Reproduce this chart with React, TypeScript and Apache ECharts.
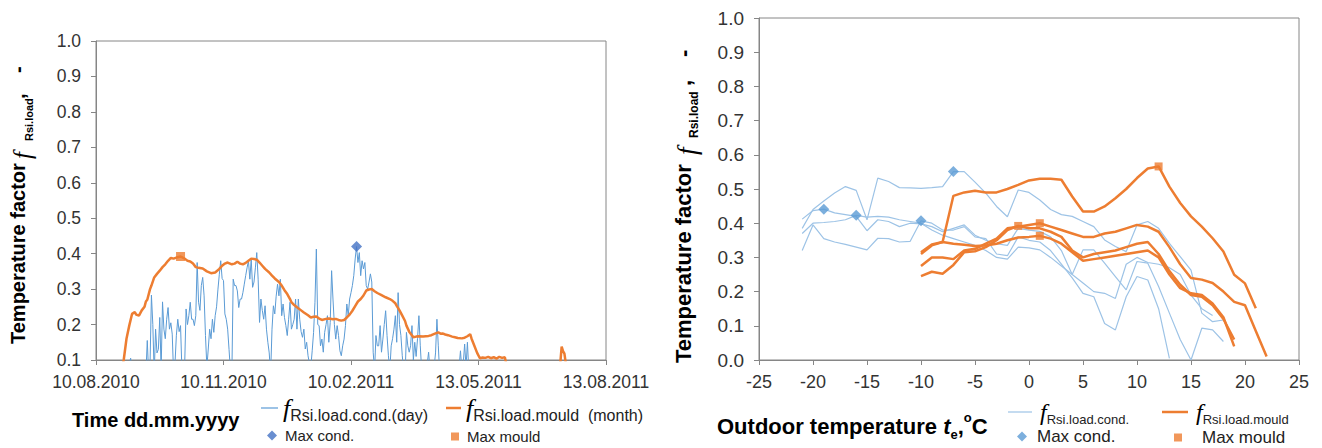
import React, { useEffect, useRef } from 'react';
import * as echarts from 'echarts';

// ---------- Left chart: time series ----------
const dateTickLabels = ['10.08.2010', '10.11.2010', '10.02.2011', '13.05.2011', '13.08.2011'];
const dayStep = 92; // days between date ticks (day 0 = 10.08.2010)

// daily condensation temperature factor, starting at day 20
const condStartDay = 20;
const condDaily = [
  0.06, 0.07, 0.05, 0.08, 0.09, 0.105, 0.07, 0.05, 0.06, 0.04, 0.07, 0.05, 0.06, 0.08, 0.05, 0.07, 0.06,
  0.155, 0.06, 0.09, 0.283, 0.2, 0.06, 0.187, 0.12, 0.13, 0.22, 0.07, 0.264, 0.187,
  0.16, 0.215, 0.248, 0.187, 0.205, 0.173, 0.06, 0.09, 0.17, 0.215,
  0.18, 0.197, 0.07, 0.05, 0.09, 0.244, 0.2, 0.225, 0.263, 0.215,
  0.215, 0.197, 0.225, 0.375, 0.263, 0.24, 0.31, 0.333, 0.281, 0.169,
  0.08, 0.131, 0.187, 0.16, 0.215, 0.178, 0.225, 0.25, 0.3, 0.342,
  0.38, 0.33, 0.324, 0.23, 0.215, 0.187, 0.13, 0.07, 0.05, 0.328,
  0.31, 0.31, 0.295, 0.248, 0.272, 0.272, 0.29, 0.314, 0.338, 0.36,
  0.38, 0.328, 0.385, 0.305, 0.32, 0.36, 0.403, 0.328, 0.206, 0.272,
  0.24, 0.215, 0.253, 0.187, 0.15, 0.12, 0.06, 0.187, 0.253, 0.23,
  0.28, 0.314, 0.281, 0.328, 0.225, 0.258, 0.22, 0.197, 0.169, 0.215,
  0.263, 0.187, 0.2, 0.215, 0.272, 0.187, 0.272, 0.215, 0.18, 0.164,
  0.187, 0.131, 0.15, 0.112, 0.09, 0.08, 0.126, 0.178, 0.263, 0.413,
  0.2, 0.197, 0.14, 0.159, 0.122, 0.178, 0.2, 0.225, 0.15, 0.206,
  0.352, 0.272, 0.2, 0.159, 0.197, 0.169, 0.126, 0.112, 0.14, 0.159,
  0.197, 0.258, 0.225, 0.272, 0.29, 0.31, 0.338, 0.385, 0.42, 0.375,
  0.403, 0.338, 0.38, 0.357, 0.375, 0.31, 0.3, 0.32, 0.343, 0.32,
  0.122, 0.07, 0.169, 0.14, 0.14, 0.197, 0.122, 0.159, 0.2, 0.239,
  0.169, 0.112, 0.07, 0.14, 0.16, 0.187, 0.225, 0.15, 0.29, 0.2,
  0.169, 0.112, 0.07, 0.05, 0.178, 0.14, 0.122, 0.14, 0.197, 0.1,
  0.15, 0.11, 0.16, 0.225, 0.14, 0.07, 0.05, 0.06, 0.08, 0.09,
  0.122, 0.07, 0.05, 0.06, 0.08, 0.12, 0.215, 0.14, 0.06, 0.05,
  0.07, 0.05, 0.08, 0.06, 0.04, 0.07, 0.05, 0.08, 0.06, 0.05, 0.07, 0.06, 0.08,
  0.126, 0.07, 0.09, 0.145, 0.08, 0.15, 0.07, 0.05, 0.06, 0.04, 0.07, 0.05, 0.06,
];

// monthly mould temperature factor (day, value); null = gap
const mouldDays = [
  19, 20, 22, 24, 26, 28, 29, 31, 33, 35, 36, 37, 39, 40, 42, 44, 46, 48, 50, 52, 54, 56, 58, 61, 64, 66, 68, 70,
  72, 74, 77, 80, 83, 86, 89, 91, 93, 95, 98, 100, 102, 104, 106, 108, 110, 112, 114, 116, 118, 120, 122, 125,
  127, 129, 132, 134, 136, 138, 140, 141, 143, 145, 148, 150, 153, 155, 157, 159, 161, 163, 166, 168, 171, 173,
  175, 177, 179, 181, 183, 185, 187, 189, 191, 193, 195, 197, 199, 201, 203, 206, 209, 212, 214, 216, 217, 219,
  221, 223, 224, 226, 229, 231, 233, 236, 238, 240, 242, 245, 247, 249, 250, 252, 254, 257, 259, 261, 264, 266,
  268, 270, 271, 273, 275, 277, 279, 281, 283, 285, 287, 289, 291, 293, 295, 296,
  316,
  335, 336, 337, 338, 339,
];
const mouldValues = [
  0.08, 0.1, 0.16, 0.197, 0.23, 0.235, 0.228, 0.225, 0.24, 0.25, 0.265, 0.27, 0.3, 0.31, 0.333, 0.343, 0.352, 0.362,
  0.37, 0.38, 0.388, 0.386, 0.389, 0.392, 0.386, 0.38, 0.378, 0.372,
  0.362, 0.36, 0.358, 0.35, 0.345, 0.347, 0.357, 0.366, 0.372, 0.375, 0.37, 0.372, 0.377, 0.372, 0.37, 0.374,
  0.38, 0.386, 0.385, 0.383, 0.375, 0.366, 0.357, 0.347,
  0.338, 0.33, 0.32, 0.31, 0.297, 0.286, 0.272, 0.263, 0.255, 0.249, 0.24, 0.234, 0.226, 0.22, 0.222, 0.223,
  0.217, 0.213, 0.216, 0.217, 0.215, 0.216,
  0.213, 0.211, 0.213, 0.22, 0.228, 0.239, 0.252, 0.265, 0.272, 0.282, 0.296, 0.299, 0.3, 0.294, 0.289, 0.283,
  0.277, 0.272, 0.267, 0.26, 0.253, 0.24,
  0.225, 0.21, 0.197, 0.18, 0.164, 0.166, 0.167, 0.166, 0.167, 0.168, 0.17, 0.175, 0.178, 0.174, 0.175, 0.172,
  0.17, 0.166, 0.164, 0.162, 0.161, 0.163,
  0.167, 0.173, 0.16, 0.14, 0.12, 0.105, 0.107, 0.106, 0.109, 0.105, 0.108, 0.104, 0.109, 0.106, 0.108, 0.09,
  null,
  0.09, 0.138, 0.125, 0.118, 0.09,
];
const maxCondDay = [188];
const maxCondValue = [0.42];
const maxMouldDay = [61];
const maxMouldValue = [0.392];

// ---------- Right chart: vs outdoor temperature ----------
const condStartTemp = -21;
const condLineA = [0.412, 0.437, 0.441, 0.43, 0.425, 0.42, 0.378, 0.41, 0.405, 0.39, 0.4, 0.398, 0.39, 0.375, 0.385,
  0.395, 0.365, 0.35, 0.34, 0.335, 0.385, 0.38, 0.376, 0.36, 0.32, 0.25, 0.322, 0.322, 0.283, 0.244, 0.205, 0.288,
  0.283, 0.215, 0.137, 0.06, 0.0, 0.093, 0.088, 0.054];
const condLineB = [0.37, 0.4, 0.402, 0.405, 0.41, 0.423, 0.418, 0.42, 0.418, 0.41, 0.405, 0.4, 0.38, 0.365, 0.355,
  0.345, 0.335, 0.32, 0.3, 0.295, 0.33, 0.328, 0.322, 0.3, 0.275, 0.25, 0.225, 0.2, 0.195, 0.18, 0.28, 0.3, 0.285,
  0.28, 0.27, 0.25, 0.19, 0.15, 0.13];
const condLineC = [0.32, 0.395, 0.355, 0.345, 0.338, 0.33, 0.322, 0.356, 0.355, 0.345, 0.347, 0.407, 0.4, 0.38, 0.38,
  0.39, 0.36, 0.355, 0.31, 0.305, 0.36, 0.35, 0.345, 0.32, 0.28, 0.24, 0.195, 0.185, 0.107, 0.088, 0.185, 0.244,
  0.234, 0.15, 0.005];
const condLineD = [0.385, 0.44, 0.465, 0.488, 0.507, 0.496, 0.41, 0.532, 0.522, 0.504, 0.503, 0.502, 0.504, 0.507,
  0.551, 0.551, 0.52, 0.488, 0.449, 0.419, 0.497, 0.49, 0.468, 0.44, 0.425, 0.42, 0.405, 0.39, 0.351, 0.332, 0.317,
  0.395, 0.405, 0.385, 0.341, 0.302, 0.263, 0.137, 0.112, 0.117];

const mouldStartTemp = -10;
const mouldLine1 = [0.31, 0.335, 0.345, 0.48, 0.49, 0.495, 0.49, 0.49, 0.5, 0.512, 0.525, 0.53, 0.53, 0.527, 0.478,
  0.434, 0.434, 0.449, 0.473, 0.5, 0.532, 0.56, 0.566, 0.507, 0.459, 0.42, 0.39, 0.356, 0.317, 0.249, 0.224, 0.151];
const mouldLine2 = [0.315, 0.338, 0.345, 0.34, 0.337, 0.333, 0.335, 0.34, 0.35, 0.358, 0.36, 0.363, 0.355, 0.34,
  0.315, 0.29, 0.295, 0.3, 0.305, 0.31, 0.315, 0.32, 0.3, 0.25, 0.21, 0.195, 0.19, 0.165, 0.125, 0.04];
const mouldLine3 = [0.275, 0.3, 0.3, 0.295, 0.32, 0.325, 0.34, 0.355, 0.385, 0.39, 0.395, 0.4, 0.39, 0.38, 0.37,
  0.36, 0.36, 0.37, 0.375, 0.385, 0.395, 0.39, 0.375, 0.33, 0.28, 0.24, 0.235, 0.225, 0.2, 0.17, 0.16, 0.085, 0.01];
const mouldLine4 = [0.245, 0.258, 0.252, 0.278, 0.315, 0.318, 0.33, 0.35, 0.38, 0.392, 0.385, 0.385, 0.375, 0.36,
  0.32, 0.3, 0.31, 0.315, 0.32, 0.33, 0.34, 0.345, 0.31, 0.26, 0.22, 0.19, 0.185, 0.16, 0.12, 0.06];

const maxCondTemp = [-19, -16, -10, -7];
const maxCondFactor = [0.441, 0.423, 0.407, 0.551];
const maxMouldTemp = [12, 1, 1, -1];
const maxMouldFactor = [0.566, 0.4, 0.363, 0.392];

// ---------- styles ----------
const SANS = 'Liberation Sans';
const SERIF = 'Liberation Serif';
const AXIS_GRAY = '#868686';
const LABEL = '#333333';
const BLUE_DAY = '#5B9BD5';
const BLUE_DIAMOND = '#4472C4';
const BLUE_LIGHT = '#9DC3E6';
const BLUE_MARK = '#5B9BD5';
const ORANGE = '#ED7D31';

const pairs = (start: number, vals: number[]) => vals.map((v, i) => [start + i, v]);
const zip = (xs: number[], ys: (number | null)[]) => xs.map((x, i) => [x, ys[i] === null ? '-' : ys[i]]);

function axisCommon(fontSize: number) {
  return {
    axisLine: { show: true, onZero: false, lineStyle: { color: AXIS_GRAY, width: 1 } },
    axisTick: { show: true, length: 5, inside: false, lineStyle: { color: AXIS_GRAY, width: 1 } },
    splitLine: { show: false },
    axisLabel: { fontSize, color: LABEL, fontFamily: SANS },
  };
}

function legendItem(name: string, left: number, top: number, w: number, h: number, formatter: string, rich: any, padLeft = 0, icon?: string) {
  return {
    data: [icon ? { name, icon } : name],
    left,
    top,
    padding: 0,
    itemWidth: w,
    itemHeight: h,
    selectedMode: false,
    formatter: () => formatter,
    textStyle: { rich, padding: [0, 0, 0, padLeft], color: '#222', fontFamily: SANS },
  };
}

// rotated (reading upwards) text piece, starting at (x, y)
function vText(text: string, x: number, y: number, fontSize: number, opts: any = {}) {
  return {
    type: 'text', x, y, rotation: Math.PI / 2,
    style: {
      text, x: 0, y: 0, fontSize, fontFamily: opts.serif ? SERIF : SANS,
      fontWeight: opts.normal ? 'normal' : 'bold', fontStyle: opts.italic ? 'italic' : 'normal',
      fill: '#000', align: 'left', verticalAlign: 'middle',
    },
  };
}

export default function App() {
  const ref = useRef<HTMLDivElement>(null);
  useEffect(() => {
    if (!ref.current) return;
    const chart = echarts.init(ref.current, null, { renderer: 'svg' });

    const legRichL = {
      f: { fontFamily: SERIF, fontStyle: 'italic', fontSize: 26, lineHeight: 30, verticalAlign: 'middle', color: '#000' },
      s: { fontFamily: SANS, fontSize: 16, lineHeight: 16, verticalAlign: 'bottom', color: '#222' },
      m: { fontFamily: SANS, fontSize: 15, lineHeight: 16, color: '#222' },
    };
    const legRichR = {
      f: { fontFamily: SERIF, fontStyle: 'italic', fontSize: 24, lineHeight: 28, verticalAlign: 'middle', color: '#000' },
      s: { fontFamily: SANS, fontSize: 13, lineHeight: 13, verticalAlign: 'bottom', color: '#222' },
      m: { fontFamily: SANS, fontSize: 17, lineHeight: 18, color: '#222' },
    };
    const xTitleRich = {
      b: { fontFamily: SANS, fontWeight: 'bold', fontSize: 22, lineHeight: 30, verticalAlign: 'middle', color: '#000' },
      i: { fontFamily: SANS, fontWeight: 'bold', fontStyle: 'italic', fontSize: 22, lineHeight: 30, verticalAlign: 'middle', color: '#000' },
      sb: { fontFamily: SANS, fontWeight: 'bold', fontSize: 13, lineHeight: 15, verticalAlign: 'bottom', color: '#000' },
      sp: { fontFamily: SANS, fontWeight: 'bold', fontSize: 13, lineHeight: 15, verticalAlign: 'top', color: '#000' },
    };

    chart.setOption({
      animation: false,
      backgroundColor: '#ffffff',
      grid: [
        { left: 96, top: 41, width: 510, height: 319, show: true, borderColor: AXIS_GRAY, borderWidth: 1 },
        { left: 759, top: 18, width: 540, height: 342, show: true, borderColor: AXIS_GRAY, borderWidth: 1 },
      ],
      xAxis: [
        {
          gridIndex: 0, type: 'value', min: 0, max: dayStep * 4, interval: dayStep,
          ...axisCommon(17.5),
          axisLabel: {
            fontSize: 17.5, color: LABEL, fontFamily: SANS, margin: 13,
            formatter: (v: number) => dateTickLabels[Math.round(v / dayStep)] ?? '',
          },
        },
        {
          gridIndex: 1, type: 'value', min: -25, max: 25, interval: 5,
          ...axisCommon(18),
          axisLabel: { fontSize: 18, color: LABEL, fontFamily: SANS, margin: 13 },
        },
      ],
      yAxis: [
        {
          gridIndex: 0, type: 'value', min: 0.1, max: 1.0, interval: 0.1,
          ...axisCommon(17.5),
          axisLabel: { fontSize: 17.5, color: LABEL, fontFamily: SANS, margin: 15, formatter: (v: number) => v.toFixed(1) },
        },
        {
          gridIndex: 1, type: 'value', min: 0, max: 1.0, interval: 0.1,
          ...axisCommon(19),
          axisLabel: { fontSize: 19, color: LABEL, fontFamily: SANS, margin: 15, formatter: (v: number) => v.toFixed(1) },
        },
      ],
      legend: [
        legendItem('condDay', 261, 395, 17, 1.2, '{f|f}{s|Rsi.load.cond.(day)}', legRichL, 0, 'rect'),
        legendItem('mouldMonth', 446, 395, 15, 2.5, '{f|f}{s|Rsi.load.mould  (month)}', legRichL, 0, 'rect'),
        legendItem('maxCondL', 267, 428, 10, 10, '{m|Max cond.}', legRichL, 3),
        legendItem('maxMouldL', 451, 429, 8, 8, '{m|Max mould}', legRichL, 3),
        legendItem('condT', 1008, 400, 24, 1.2, '{f|f}{s|Rsi.load.cond.}', legRichR, 3, 'rect'),
        legendItem('mouldT', 1162, 400, 26, 2.5, '{f|f}{s|Rsi.load.mould}', legRichR, 3, 'rect'),
        legendItem('maxCondR', 1017, 428, 10, 10, '{m|Max cond.}', legRichR, 5),
        legendItem('maxMouldR', 1174, 429, 8, 8, '{m|Max mould}', legRichR, 15),
      ],
      graphic: [
        // left y title
        vText('Temperature factor', 18, 344, 20),
        vText('f', 22, 159, 25, { serif: true, italic: true, normal: true }),
        vText('Rsi.load', 28.5, 141, 11),
        vText(',', 18, 99, 20),
        vText('-', 18, 73, 20),
        // right y title
        vText('Temperature factor', 683, 363, 22),
        vText('f', 687, 155, 27, { serif: true, italic: true, normal: true }),
        vText('Rsi.load', 694, 138, 12),
        vText(',', 683, 86, 22),
        vText('-', 683, 57, 22),
        {
          type: 'text', x: 72, y: 420,
          style: { text: 'Time dd.mm.yyyy', fontFamily: SANS, fontWeight: 'bold', fontSize: 20, fill: '#000', align: 'left', verticalAlign: 'middle' },
        },
        {
          type: 'text', x: 717, y: 426,
          style: { text: '{b|Outdoor temperature }{i|t}{sb|e}{b|,}{sp|o}{b|C}', rich: xTitleRich, align: 'left', verticalAlign: 'middle' },
        },
      ],
      series: [
        {
          name: 'condDay', type: 'line', xAxisIndex: 0, yAxisIndex: 0, symbol: 'none', z: 2,
          lineStyle: { color: BLUE_DAY, width: 1 }, itemStyle: { color: BLUE_DAY },
          data: pairs(condStartDay, condDaily),
        },
        {
          name: 'mouldMonth', type: 'line', xAxisIndex: 0, yAxisIndex: 0, symbol: 'none', z: 3,
          lineStyle: { color: ORANGE, width: 2.5 }, itemStyle: { color: ORANGE },
          data: zip(mouldDays, mouldValues),
        },
        {
          name: 'maxCondL', type: 'scatter', xAxisIndex: 0, yAxisIndex: 0, symbol: 'diamond', symbolSize: 11, z: 5,
          itemStyle: { color: BLUE_DIAMOND }, data: zip(maxCondDay, maxCondValue),
        },
        {
          name: 'maxMouldL', type: 'scatter', xAxisIndex: 0, yAxisIndex: 0, symbol: 'rect', symbolSize: 9, z: 5,
          itemStyle: { color: ORANGE }, data: zip(maxMouldDay, maxMouldValue),
        },
        ...[condLineA, condLineB, condLineC, condLineD].map((vals) => ({
          name: 'condT', type: 'line', xAxisIndex: 1, yAxisIndex: 1, symbol: 'none', z: 2,
          lineStyle: { color: BLUE_LIGHT, width: 1.2 }, itemStyle: { color: BLUE_LIGHT },
          data: pairs(condStartTemp, vals),
        })),
        ...[mouldLine1, mouldLine2, mouldLine3, mouldLine4].map((vals) => ({
          name: 'mouldT', type: 'line', xAxisIndex: 1, yAxisIndex: 1, symbol: 'none', z: 3,
          lineStyle: { color: ORANGE, width: 2.5 }, itemStyle: { color: ORANGE },
          data: pairs(mouldStartTemp, vals),
        })),
        {
          name: 'maxCondR', type: 'scatter', xAxisIndex: 1, yAxisIndex: 1, symbol: 'diamond', symbolSize: 11, z: 5,
          itemStyle: { color: BLUE_MARK }, data: zip(maxCondTemp, maxCondFactor),
        },
        {
          name: 'maxMouldR', type: 'scatter', xAxisIndex: 1, yAxisIndex: 1, symbol: 'rect', symbolSize: 8, z: 5,
          itemStyle: { color: ORANGE }, data: zip(maxMouldTemp, maxMouldFactor),
        },
      ],
    });
    return () => chart.dispose();
  }, []);
  return <div ref={ref} style={{ position: 'fixed', left: 0, top: 0, width: 1322, height: 448, background: '#fff' }} />;
}
